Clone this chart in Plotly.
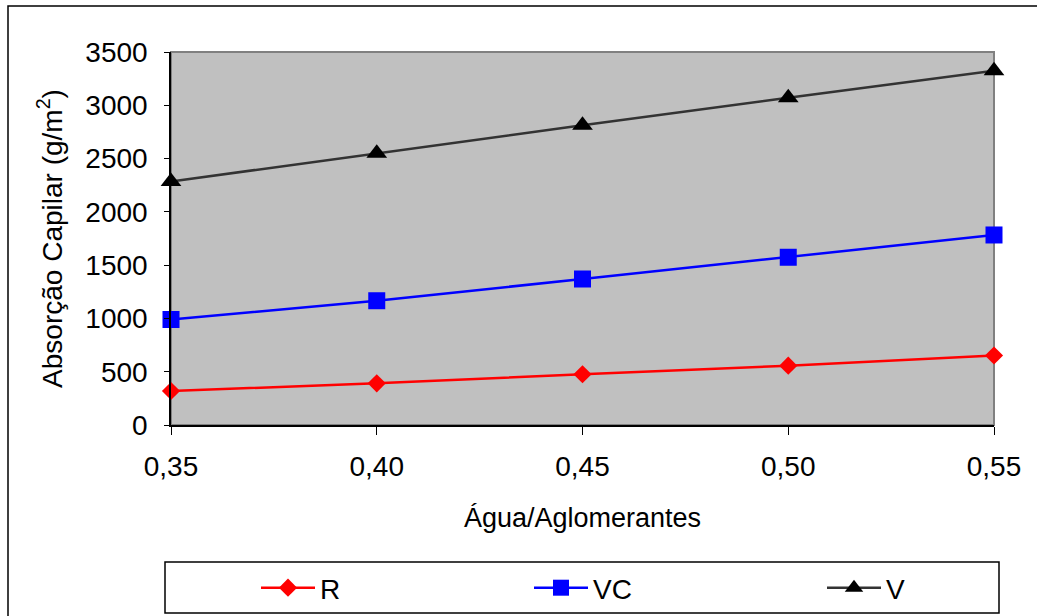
import plotly.graph_objects as go

# Relação água/aglomerantes e absorção capilar (g/m²) de cada mistura
agua_aglomerantes = [0.35, 0.40, 0.45, 0.50, 0.55]
rotulos_x = ["0,35", "0,40", "0,45", "0,50", "0,55"]
serie_r = [319, 391, 476, 557, 652]
serie_vc = [990, 1166, 1370, 1574, 1783]
serie_v = [2285, 2550, 2812, 3071, 3325]
ticks_y = [0, 500, 1000, 1500, 2000, 2500, 3000, 3500]

W, H = 1037, 616
L, R, T, B = 171, 994, 52, 425  # plot area in pixels


def px_x(p):
    return (p - L) / (R - L)


def px_y(p):
    return (B - p) / (B - T)


FONT = "Liberation Sans, Arial, sans-serif"
FS = 28

fig = go.Figure()
fig.add_trace(go.Scatter(
    x=agua_aglomerantes, y=serie_r, name="R", mode="lines+markers",
    line=dict(color="#FF0000", width=2.5),
    marker=dict(symbol="diamond", size=14, color="#FF0000"),
    cliponaxis=False, legend="legend",
))
fig.add_trace(go.Scatter(
    x=agua_aglomerantes, y=serie_vc, name="VC", mode="lines+markers",
    line=dict(color="#0000FF", width=2.5),
    marker=dict(symbol="square", size=17, color="#0000FF"),
    cliponaxis=False, legend="legend2",
))
fig.add_trace(go.Scatter(
    x=agua_aglomerantes, y=serie_v, name="V", mode="lines+markers",
    line=dict(color="#333333", width=2.5),
    marker=dict(symbol="triangle-up", size=18, color="#000000"),
    cliponaxis=False, legend="legend3",
))

shapes = [
    # outer chart frame
    dict(type="rect", xref="paper", yref="paper",
         x0=px_x(8), x1=px_x(1045), y0=px_y(625), y1=px_y(6),
         line=dict(color="#000000", width=1.5), fillcolor="rgba(0,0,0,0)", layer="below"),
    # plot area border (top/right)
    dict(type="rect", xref="paper", yref="paper", x0=0, x1=1, y0=0, y1=1,
         line=dict(color="#808080", width=2), fillcolor="rgba(0,0,0,0)", layer="below"),
    # legend box
    dict(type="rect", xref="paper", yref="paper",
         x0=px_x(165), x1=px_x(999), y0=px_y(613), y1=px_y(562),
         line=dict(color="#000000", width=1.5), fillcolor="#FFFFFF"),
]


def legenda(x_px):
    return dict(
        orientation="h", x=px_x(x_px), y=px_y(588), xanchor="left", yanchor="middle",
        bgcolor="rgba(0,0,0,0)", borderwidth=0,
        font=dict(family=FONT, size=FS), itemwidth=54,
    )


fig.update_layout(
    width=W, height=H,
    margin=dict(l=L, r=W - R, t=T, b=H - B, pad=0, autoexpand=False),
    paper_bgcolor="#FFFFFF",
    plot_bgcolor="#C0C0C0",
    font=dict(family=FONT, size=FS, color="#000000"),
    shapes=shapes,
    showlegend=True,
    legend=legenda(256),
    legend2=legenda(529),
    legend3=legenda(822),
    xaxis=dict(
        range=[0.35, 0.55], tickvals=agua_aglomerantes, ticktext=rotulos_x,
        showgrid=False, zeroline=False, showline=True, linecolor="#000000", linewidth=1.5,
        ticks="outside", ticklen=8, tickwidth=1, tickcolor="#000000",
        ticklabelstandoff=8, automargin=False,
        title=dict(text="Água/Aglomerantes", standoff=27, font=dict(size=27)),
    ),
    yaxis=dict(
        range=[0, 3500], tickvals=ticks_y,
        showgrid=False, zeroline=False, showline=True, linecolor="#000000", linewidth=1.5,
        ticks="outside", ticklen=5, tickwidth=1, tickcolor="#000000",
        ticklabelstandoff=11, automargin=False,
        title=dict(text="Absorção Capilar (g/m<sup>2</sup>)", standoff=15, font=dict(size=FS)),
    ),
)

fig.write_html("out.html")
